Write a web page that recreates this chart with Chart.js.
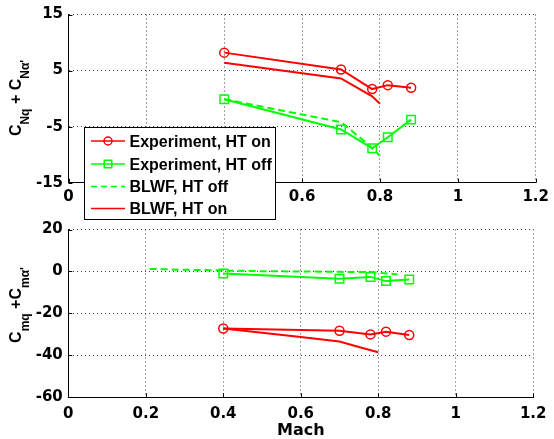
<!DOCTYPE html>
<html>
<head>
<meta charset="utf-8">
<script src="https://cdn.jsdelivr.net/npm/chart.js@4"></script>
<style>
  body { margin: 0; background: #fff; }
  #wrap { position: relative; width: 554px; height: 439px; overflow: hidden; }
  canvas { position: absolute; left: 0; }
  #cnChart { top: 0; z-index: 2; }
  #cmChart { top: 215px; z-index: 1; }
</style>
</head>
<body>
<div id="wrap">
  <canvas id="cnChart" width="554" height="224"></canvas>
  <canvas id="cmChart" width="554" height="224"></canvas>
</div>
<script>
// Mach numbers -------------------------------------------------------------
const machExp = [0.4, 0.7, 0.78, 0.82, 0.88];
const machBlwfOnCn = [0.4, 0.7, 0.78, 0.8];
const machBlwfOffCn = [0.4, 0.7, 0.76, 0.8];
const machBlwfOnCm = [0.4, 0.5, 0.6, 0.7, 0.75, 0.8];
const machBlwfOffCm = [0.21, 0.3, 0.4, 0.5, 0.6, 0.7, 0.78, 0.85];

// normal force damping, CNq + CNa'
const cnExpOn = [8.2, 5.2, 1.7, 2.4, 1.95];
const cnExpOff = [-0.1, -5.5, -8.85, -6.9, -3.75];
const cnBlwfOff = [-0.1, -4.2, -7.6, -10.2];
const cnBlwfOn = [6.4, 3.6, 0.4, -0.9];

// pitch damping, Cmq + Cma'
const cmExpOn = [-27.2, -28.3, -30.0, -28.7, -30.3];
const cmExpOff = [-1.0, -3.5, -2.6, -4.6, -3.8];
const cmBlwfOff = [1.2, 0.8, 0.5, 0.1, 0.0, -0.2, -0.3, -1.4];
const cmBlwfOn = [-27.2, -29.2, -31.2, -33.4, -36.0, -38.5];

// tick labels
const machTicks = ['0', '0.2', '0.4', '0.6', '0.8', '1', '1.2'];
const cnTicks = ['-15', '-5', '5', '15'];
const cmTicks = ['-60', '-40', '-20', '0', '20'];

const seriesNames = ['Experiment, HT on', 'Experiment, HT off', 'BLWF, HT off', 'BLWF, HT on'];

// styling ------------------------------------------------------------------
const RED = '#ff0000';
const GREEN = '#00ff00';
const GRID = 'rgba(0,0,0,0.75)';
const TICK_FONT = { family: '"DejaVu Sans", sans-serif', size: 15, weight: 'bold' };
const TEXT_FONT = '"Liberation Sans", Arial, sans-serif';

const pts = (xs, ys) => xs.map((x, i) => ({ x: x, y: ys[i] }));

function makeDatasets(expOn, expOff, machOff, blwfOff, machOn, blwfOn) {
  return [
    { label: seriesNames[0], data: pts(machExp, expOn), borderColor: RED, borderWidth: 2,
      pointStyle: 'circle', pointRadius: 4.5, pointBorderWidth: 1.5,
      pointBorderColor: RED, pointBackgroundColor: 'rgba(0,0,0,0)' },
    { label: seriesNames[1], data: pts(machExp, expOff), borderColor: GREEN, borderWidth: 2,
      pointStyle: 'rect', pointRadius: 6, pointBorderWidth: 1.5,
      pointBorderColor: GREEN, pointBackgroundColor: 'rgba(0,0,0,0)' },
    { label: seriesNames[2], data: pts(machOff, blwfOff), borderColor: GREEN, borderWidth: 2,
      borderDash: [7, 4], pointRadius: 0 },
    { label: seriesNames[3], data: pts(machOn, blwfOn), borderColor: RED, borderWidth: 2,
      pointRadius: 0 }
  ];
}

// rotated y title with subscripts
function drawTitle(ctx, parts, cx, cy) {
  ctx.save();
  ctx.translate(cx, cy);
  ctx.rotate(-Math.PI / 2);
  ctx.fillStyle = '#000';
  ctx.textBaseline = 'alphabetic';
  ctx.textAlign = 'left';
  const fontOf = p => p.sub ? 'bold 12px ' + TEXT_FONT : 'bold 16px ' + TEXT_FONT;
  let total = 0;
  parts.forEach(p => { ctx.font = fontOf(p); total += ctx.measureText(p.t).width; });
  let x = -total / 2;
  parts.forEach(p => {
    ctx.font = fontOf(p);
    ctx.fillText(p.t, x, p.sub ? 8 : 0);
    x += ctx.measureText(p.t).width;
  });
  ctx.restore();
}

function drawLegend(ctx) {
  const x0 = 84.5, y0 = 127.5, w = 191, h = 92;
  ctx.save();
  ctx.fillStyle = '#fff';
  ctx.fillRect(x0, y0, w, h);
  ctx.strokeStyle = '#000';
  ctx.lineWidth = 1;
  ctx.strokeRect(x0, y0, w, h);
  const rows = [141, 164, 186.5, 208.5];
  const colors = [RED, GREEN, GREEN, RED];
  rows.forEach((y, i) => {
    ctx.strokeStyle = colors[i];
    ctx.lineWidth = 1.5;
    ctx.setLineDash(i === 2 ? [6, 4] : []);
    ctx.beginPath();
    ctx.moveTo(91, y);
    ctx.lineTo(125, y);
    ctx.stroke();
    ctx.setLineDash([]);
    if (i === 0) {
      ctx.beginPath();
      ctx.arc(108, y, 4, 0, Math.PI * 2);
      ctx.stroke();
    } else if (i === 1) {
      ctx.strokeRect(104.25, y - 3.75, 7.5, 7.5);
    }
    ctx.fillStyle = '#000';
    ctx.font = 'bold 16px ' + TEXT_FONT;
    ctx.textBaseline = 'alphabetic';
    ctx.fillText(seriesNames[i], 129.5, y + 5.8);
  });
  ctx.restore();
}

// inward tick marks, titles and legend
function decor(titleParts, titleY, withLegend, withXTitle) {
  return {
    id: 'decor',
    afterDraw(chart) {
      const ctx = chart.ctx;
      const area = chart.chartArea;
      const xs = chart.scales.x, ys = chart.scales.y;
      ctx.save();
      ctx.strokeStyle = '#000';
      ctx.lineWidth = 1;
      ctx.beginPath();
      xs.ticks.forEach(t => {
        const px = Math.round(xs.getPixelForValue(t.value)) + 0.5;
        ctx.moveTo(px, area.bottom);
        ctx.lineTo(px, area.bottom - 4);
      });
      ys.ticks.forEach(t => {
        const py = Math.round(ys.getPixelForValue(t.value)) + 0.5;
        ctx.moveTo(area.left, py);
        ctx.lineTo(area.left + 4, py);
      });
      ctx.stroke();
      ctx.restore();
      drawTitle(ctx, titleParts, 20.5, titleY);
      if (withXTitle) {
        ctx.save();
        ctx.fillStyle = '#000';
        ctx.font = 'bold 16px "DejaVu Sans", sans-serif';
        ctx.textAlign = 'center';
        ctx.textBaseline = 'alphabetic';
        ctx.fillText('Mach', (area.left + area.right) / 2, 435 - 215);
        ctx.restore();
      }
      if (withLegend) drawLegend(ctx);
    }
  };
}

function makeOptions(yMin, yMax, yLabels, pad, xPad) {
  return {
    responsive: false,
    animation: false,
    events: [],
    layout: { padding: pad },
    plugins: { legend: { display: false }, tooltip: { enabled: false } },
    scales: {
      x: {
        type: 'linear', min: 0, max: 1.2,
        afterBuildTicks: s => { s.ticks = machTicks.map(t => ({ value: parseFloat(t) })); },
        afterFit: s => { s.height = 30; },
        ticks: { color: '#000', font: TICK_FONT, padding: xPad, maxRotation: 0,
                 autoSkip: false, callback: (v, i) => machTicks[i] },
        grid: { color: GRID, lineWidth: 1, drawTicks: false },
        border: { color: '#000', width: 1, dash: [1, 3] }
      },
      y: {
        type: 'linear', min: yMin, max: yMax,
        afterBuildTicks: s => { s.ticks = yLabels.map(t => ({ value: parseFloat(t) })); },
        afterFit: s => { s.width = pad.yWidth; },
        ticks: { color: '#000', font: TICK_FONT, padding: 5.5,
                 callback: (v, i) => yLabels[i] },
        grid: { color: GRID, lineWidth: 1, drawTicks: false },
        border: { color: '#000', width: 1, dash: [1, 3] }
      }
    }
  };
}

// top chart: CNq + CNa' ------------------------------------------------------
const cnCtx = document.getElementById('cnChart').getContext('2d');
const cnOptions = makeOptions(-15, 15, cnTicks,
  { top: 14.5, right: 15.3, bottom: 11.3, left: 0, yWidth: 68.5 }, 5);
new Chart(cnCtx, {
  type: 'line',
  data: { datasets: makeDatasets(cnExpOn, cnExpOff, machBlwfOffCn, cnBlwfOff, machBlwfOnCn, cnBlwfOn) },
  options: cnOptions,
  plugins: [decor([{ t: 'C' }, { t: 'Nq', sub: true }, { t: ' + C' }, { t: "N\u03b1'", sub: true }], 98, true, false)]
});

// bottom chart: Cmq + Cma' ---------------------------------------------------
const cmCtx = document.getElementById('cmChart').getContext('2d');
const cmOptions = makeOptions(-60, 20, cmTicks,
  { top: 13.3, right: 15, bottom: 11.7, left: 0, yWidth: 68.3 }, 7.5);
new Chart(cmCtx, {
  type: 'line',
  data: { datasets: makeDatasets(cmExpOn, cmExpOff, machBlwfOffCm, cmBlwfOff, machBlwfOnCm, cmBlwfOn) },
  options: cmOptions,
  plugins: [decor([{ t: 'C' }, { t: 'mq', sub: true }, { t: ' +C' }, { t: "m\u03b1'", sub: true }], 90, false, true)]
});
</script>
</body>
</html>
